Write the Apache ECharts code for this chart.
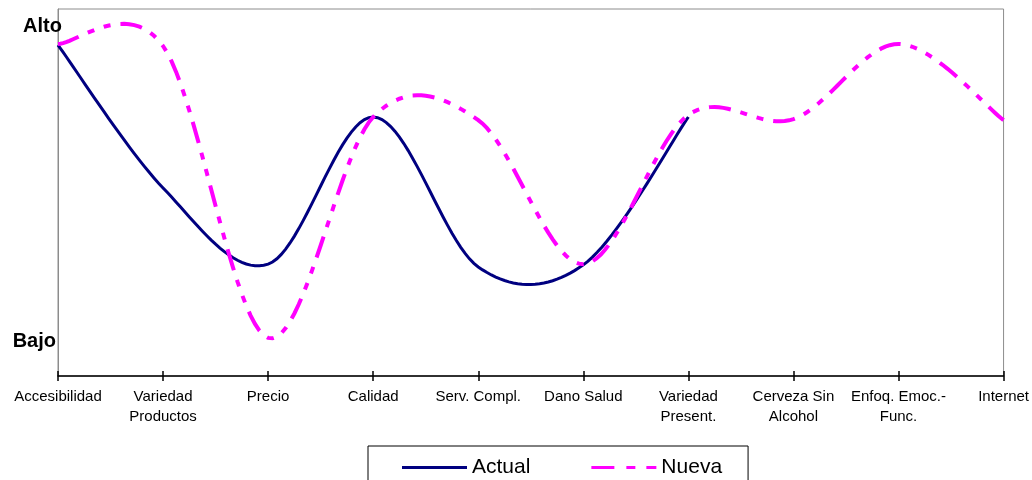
<!DOCTYPE html>
<html>
<head>
<meta charset="utf-8">
<title>Actual vs Nueva</title>
<script src="https://cdn.jsdelivr.net/npm/echarts@6/dist/echarts.min.js"></script>
<style>
  html, body { margin: 0; padding: 0; background: #fff; }
  #chart { width: 1032px; height: 480px; }
</style>
</head>
<body>
<div id="chart"></div>
<script>
const categories = [
  'Accesibilidad', 'Variedad\nProductos', 'Precio', 'Calidad', 'Serv. Compl.',
  'Dano Salud', 'Variedad\nPresent.', 'Cerveza Sin\nAlcohol', 'Enfoq. Emoc.-\nFunc.', 'Internet'
]
// scale: Bajo = 1, Alto = 10
const actualValues = [9.47, 5.38, 3.2, 7.41, 3.12, 3.18, 7.41]
const nuevaValues = [9.5, 9.44, 1.09, 7.41, 7.32, 3.2, 7.47, 7.35, 9.5, 7.32]
const yLabels = { 1: '{b|Bajo}', 10: '{a|Alto}' }

const FONT = "'Liberation Sans', Arial, sans-serif"

// Excel style smoothing: cubic bezier through every point (catmull-rom, 1/6)
function smoothPoints(pts) {
  const out = [pts[0]]
  for (let i = 0; i < pts.length - 1; i++) {
    const p0 = pts[i - 1] || pts[i]
    const p1 = pts[i]
    const p2 = pts[i + 1]
    const p3 = pts[i + 2] || p2
    const c1 = [p1[0] + (p2[0] - p0[0]) / 6, p1[1] + (p2[1] - p0[1]) / 6]
    const c2 = [p2[0] - (p3[0] - p1[0]) / 6, p2[1] - (p3[1] - p1[1]) / 6]
    for (let s = 1; s <= 24; s++) {
      const t = s / 24, u = 1 - t
      const a = u * u * u, b = 3 * u * u * t, c = 3 * u * t * t, d = t * t * t
      out.push([
        a * p1[0] + b * c1[0] + c * c2[0] + d * p2[0],
        a * p1[1] + b * c1[1] + c * c2[1] + d * p2[1]
      ])
    }
  }
  return out
}

function curveSeries(name, values, color, width, dash) {
  return {
    name: name,
    type: 'custom',
    itemStyle: { color: color },
    encode: { x: 0, y: 1 },
    data: values.map((v, i) => [i, v]),
    renderItem: function (params, api) {
      if (params.dataIndex !== 0) return null
      const pts = values.map((v, i) => api.coord([i, v]))
      return {
        type: 'polyline',
        shape: { points: smoothPoints(pts) },
        style: { fill: 'none', stroke: color, lineWidth: width, lineDash: dash }
      }
    }
  }
}

const chart = echarts.init(document.getElementById('chart'))

chart.setOption({
  animation: false,
  grid: {
    left: 58, right: 28, top: 9, bottom: 104,
    show: true, borderColor: '#8c8c8c', borderWidth: 1
  },
  legend: {
    left: 368, top: 446,
    padding: [11, 26, 8, 34],
    itemGap: 61,
    itemWidth: 65,
    itemHeight: 4,
    borderColor: '#000', borderWidth: 1,
    backgroundColor: '#fff',
    textStyle: { fontFamily: FONT, fontSize: 21, color: '#000' },
    data: [
      { name: 'Actual', icon: 'path://M0,0H65V3H0Z' },
      { name: 'Nueva', icon: 'path://M0,0H23V3H0Z M35,0H44V3H35Z M55,0H65V3H55Z' }
    ]
  },
  xAxis: [
    {
      type: 'category',
      data: categories,
      boundaryGap: false,
      axisLine: { lineStyle: { color: '#000', width: 1.5 } },
      axisTick: { length: 5, lineStyle: { color: '#000', width: 1.5 } },
      axisLabel: {
        interval: 0, margin: 11, color: '#000',
        fontFamily: FONT, fontSize: 15, lineHeight: 20
      }
    },
    {
      type: 'category',
      data: categories,
      position: 'bottom',
      boundaryGap: false,
      axisLine: { show: false },
      axisTick: { inside: true, length: 5, lineStyle: { color: '#000', width: 1.5 } },
      axisLabel: { show: false }
    }
  ],
  yAxis: {
    type: 'value',
    min: 0, max: 10.5, interval: 1,
    splitLine: { show: false },
    axisTick: { show: false },
    axisLine: { show: true, lineStyle: { color: '#8c8c8c', width: 1 } },
    axisLabel: {
      margin: 2, color: '#000',
      fontFamily: FONT, fontSize: 20, fontWeight: 'bold',
      formatter: (v) => yLabels[v] || '',
      rich: {
        a: { fontFamily: FONT, fontSize: 20, fontWeight: 'bold', color: '#000', padding: [0, -6, 0, 0] },
        b: { fontFamily: FONT, fontSize: 20, fontWeight: 'bold', color: '#000' }
      }
    }
  },
  series: [
    curveSeries('Actual', actualValues, '#000080', 3, null),
    curveSeries('Nueva', nuevaValues, '#ff00ff', 4, [22, 10, 7, 10, 7, 10])
  ]
})
</script>
</body>
</html>
